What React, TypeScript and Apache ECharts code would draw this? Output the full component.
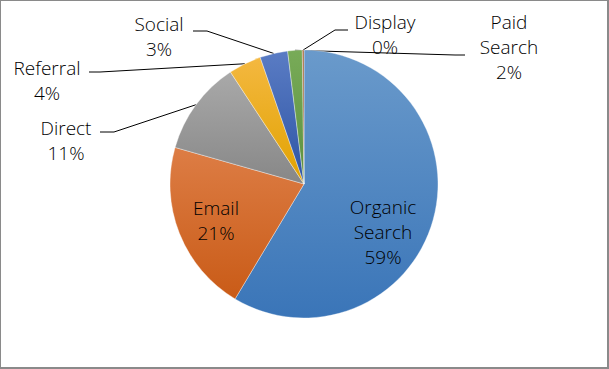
import React, { useEffect, useRef } from 'react';
import * as echarts from 'echarts';

const categories = ['Organic Search', 'Email', 'Direct', 'Referral', 'Social', 'Paid Search', 'Display'];
const shares = [58.6, 20.8, 11.35, 3.95, 3.35, 1.75, 0.2];

const gradients: [string, string][] = [
  ['#6a9acb', '#3a75b8'],
  ['#dd7d45', '#c95b17'],
  ['#a9a9a9', '#878787'],
  ['#f4b840', '#e1a200'],
  ['#5a7cc4', '#2d54a4'],
  ['#78ab58', '#5c903e'],
  ['#a5673a', '#8a4f24'],
];

// label placement (text centre, and leader-line elbow/end)
const labelSpots: Record<number, { x: number; y: number; line?: number[][] }> = {
  0: { x: 383, y: 232 },
  1: { x: 216, y: 220 },
  2: { x: 66, y: 140, line: [[114, 132], [100, 132]] },
  3: { x: 47, y: 80, line: [[100, 72], [89, 72]] },
  4: { x: 159, y: 36, line: [[207, 31], [193, 31]] },
  5: { x: 509, y: 47, line: [[455, 55], [465, 55]] },
  6: { x: 385, y: 34, line: [[335, 30], [348, 30]] },
};

export default function App() {
  const ref = useRef<HTMLDivElement>(null);
  useEffect(() => {
    document.body.style.margin = '0';
    const chart = echarts.init(ref.current!, null, { renderer: 'svg' });
    const data = categories.map((name, i) => {
      const inside = i < 2;
      return {
        name,
        value: shares[i],
        itemStyle: {
          color: new echarts.graphic.LinearGradient(0, 0, 0, 1, [
            { offset: 0, color: gradients[i][0] },
            { offset: 1, color: gradients[i][1] },
          ]),
        },
        label: { position: inside ? 'inside' : 'outside' },
        labelLine: { show: !inside },
      };
    });
    chart.setOption({
      animation: false,
      series: [
        {
          type: 'pie',
          center: [304, 184],
          radius: 134,
          startAngle: 90,
          clockwise: true,
          avoidLabelOverlap: false,
          itemStyle: { borderColor: 'rgba(255,255,255,0.6)', borderWidth: 0.6 },
          label: {
            fontFamily: 'Open Sans',
            fontWeight: 300,
            fontSize: 19,
            lineHeight: 25,
            color: '#000',
            align: 'center',
            formatter: (p: any) => `${p.name.split(' ').join('\n')}\n${Math.round(p.percent)}%`,
          },
          labelLine: { lineStyle: { color: '#000', width: 1 }, length: 10, length2: 10 },
          labelLayout: (p: any) => {
            const s = labelSpots[p.dataIndex];
            const out: any = { x: s.x, y: s.y, align: 'center', verticalAlign: 'middle' };
            if (s.line && p.labelLinePoints) {
              out.labelLinePoints = [p.labelLinePoints[0], s.line[0], s.line[1]];
            }
            return out;
          },
          data,
        },
      ],
    });
    return () => chart.dispose();
  }, []);
  return (
    <div style={{ position: 'relative', width: 609, height: 369, background: '#fff' }}>
      <div ref={ref} style={{ position: 'absolute', left: 0, top: 0, width: 609, height: 369 }} />
      <div
        style={{
          position: 'absolute',
          left: 0,
          top: 0,
          width: 609,
          height: 369,
          boxSizing: 'border-box',
          borderLeft: '1px solid #8a8a8a',
          borderTop: '1px solid #8a8a8a',
          borderRight: '2px solid #8a8a8a',
          borderBottom: '2px solid #8a8a8a',
          pointerEvents: 'none',
        }}
      />
    </div>
  );
}
